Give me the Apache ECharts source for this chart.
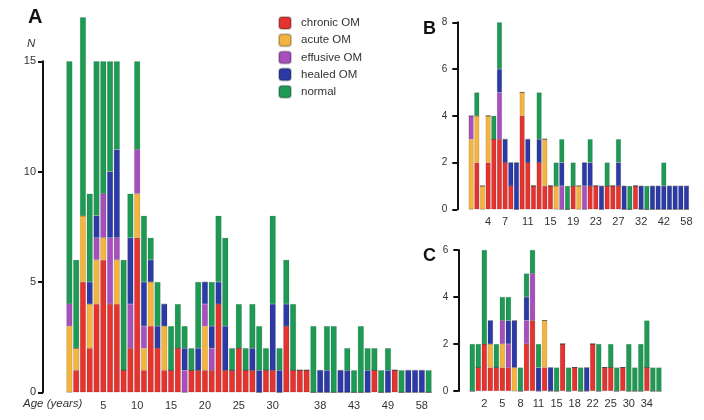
<!DOCTYPE html>
<html>
<head>
<meta charset="utf-8">
<script src="https://cdn.jsdelivr.net/npm/echarts/dist/echarts.min.js"></script>
<style>html,body{margin:0;padding:0;background:#fff}#chart{width:704px;height:420px}</style>
</head>
<body>
<div id="chart"></div>
<script>
// ---------- names & colours ----------
const seriesNames = ['chronic OM', 'acute OM', 'effusive OM', 'healed OM', 'normal'];
const seriesColors = ['#e3342f', '#f3b53f', '#a650be', '#2c3aa5', '#1f9a55'];

// ---------- Panel A ----------
const agesA = ['0','1','2','3','4','5','6','7','8','9','10','11','12','13','14','15','16','17','18','19','20',
  '21','22','23','24','25','26','27','28','29','30','31','32','33','34','35','37','38','39','40','41','42','43',
  '44','45','46','47','49','50','52','54','56','58','60'];
const labelsA = ['5','10','15','20','25','30','38','43','49','58'];
const chronicA  = [0,1,5,2,4,6,4,4,1,2, 7,1,3,2,1,1,2,0,1,1, 1,1,4,1,1,2,1,1,0,1, 1,0,3,1,1,1,0,0,0,0, 0,0,0,0,0,1,0,0,1,0, 0,0,0,0];
const acuteA    = [3,1,3,2,2,1,0,2,0,0, 2,1,2,0,2,0,0,0,0,0, 2,0,0,0,0,0,0,0,0,0, 0,0,0,0,0,0,0,0,0,0, 0,0,0,0,0,0,0,0,0,0, 0,0,0,0];
const effusiveA = [1,0,0,0,1,2,3,1,0,2, 2,1,0,0,0,0,0,1,0,0, 1,1,0,0,0,0,0,0,0,0, 0,0,0,0,0,0,0,0,0,0, 0,0,0,0,0,0,0,0,0,0, 0,0,0,0];
const healedA   = [0,0,0,1,1,0,3,4,0,3, 0,2,1,1,1,0,0,1,0,1, 1,1,1,2,0,0,0,1,1,0, 3,1,1,0,0,0,0,1,1,0, 1,1,0,0,1,0,0,1,0,0, 1,1,1,0];
const normalA   = [11,4,9,4,7,6,5,4,5,2, 4,3,1,2,0,2,2,1,1,3, 0,2,3,4,1,2,1,2,2,1, 4,1,2,3,0,0,3,0,2,3, 0,1,1,3,1,1,1,1,0,1, 0,0,0,1];
const ticksA = [0, 5, 10, 15];

// ---------- Panel B ----------
const agesB = ['1','2','3','4','5','6','7','8','9','10','11','12','13','14','15','16','17','18','19','20',
  '21','22','23','24','25','26','27','28','29','30','32','34','36','39','42','45','50','54','58'];
const labelsB = ['4','7','11','15','19','23','27','32','42','58'];
const chronicB  = [0,2,0,2,3,3,2,1,0,4, 2,1,2,1,1,0,0,0,1,0, 0,1,1,0,1,1,1,0,0,1, 0,0,0,0,0,0,0,0,0];
const acuteB    = [3,2,1,2,0,0,0,0,0,1, 0,0,0,2,0,1,0,0,0,1, 0,0,0,0,0,0,0,0,0,0, 0,0,0,0,0,0,0,0,0];
const effusiveB = [1,0,0,0,0,2,0,0,0,0, 0,0,0,0,0,0,1,0,0,0, 1,0,0,0,0,0,0,0,0,0, 0,0,0,0,0,0,0,0,0];
const healedB   = [0,0,0,0,0,1,1,1,2,0, 1,0,1,0,0,0,1,0,0,0, 1,1,0,1,0,0,1,1,0,0, 1,0,1,1,1,1,1,1,1];
const normalB   = [0,1,0,0,1,2,0,0,0,0, 0,0,2,0,0,1,1,1,1,0, 0,1,0,0,1,0,1,0,1,0, 0,1,0,0,1,0,0,0,0];
const ticksB = [0, 2, 4, 6, 8];

// ---------- Panel C ----------
const agesC = ['0','1','2','3','4','5','6','7','8','9','10','11','12','13','15','16','17','18','19','20',
  '22','23','24','25','27','28','30','31','32','34','36','38'];
const labelsC = ['2','5','8','11','15','18','22','25','30','34'];
const chronicC  = [0,1,2,1,1,1,1,0,0,2, 3,0,1,0,0,2,0,1,0,0, 2,0,1,1,0,1,0,0,0,1, 0,0];
const acuteC    = [0,0,0,1,0,1,0,1,0,0, 0,0,2,0,0,0,0,0,0,0, 0,0,0,0,0,0,0,0,0,0, 0,0];
const effusiveC = [0,0,0,0,0,1,1,0,0,1, 2,0,0,0,0,0,0,0,0,0, 0,0,0,0,0,0,0,0,0,0, 0,0];
const healedC   = [0,0,0,1,0,0,1,2,0,1, 0,1,0,1,0,0,0,0,0,1, 0,0,0,0,0,0,0,0,0,0, 0,0];
const normalC   = [2,1,4,0,1,1,1,0,1,1, 1,1,0,0,1,0,1,0,1,0, 0,2,0,1,1,0,2,1,2,2, 1,1];
const ticksC = [0, 2, 4, 6];

// ---------- build ----------
const FONT = 'Liberation Sans, Arial, sans-serif';
const panels = [
  { ages: agesA, labels: labelsA, data: [chronicA, acuteA, effusiveA, healedA, normalA], ticks: ticksA,
    grid: {left: 66, top: 61.3, width: 366, height: 331}, offset: 23, ylabelMargin: 7, ylabelSize: 11, xlabelMargin: 8 },
  { ages: agesB, labels: labelsB, data: [chronicB, acuteB, effusiveB, healedB, normalB], ticks: ticksB,
    grid: {left: 468.3, top: 22.3, width: 221, height: 187}, offset: 11, ylabelMargin: 10, ylabelSize: 10, xlabelMargin: 7 },
  { ages: agesC, labels: labelsC, data: [chronicC, acuteC, effusiveC, healedC, normalC], ticks: ticksC,
    grid: {left: 469.3, top: 250, width: 192.6, height: 141}, offset: 11, ylabelMargin: 10, ylabelSize: 10, xlabelMargin: 7 }
];

const grids = [], xAxes = [], yAxes = [], series = [];
panels.forEach((p, i) => {
  grids.push(Object.assign({ containLabel: false, outerBoundsMode: 'none' }, p.grid));
  xAxes.push({
    type: 'category', gridIndex: i, data: p.ages,
    axisLine: { show: false }, axisTick: { show: false }, splitLine: { show: false },
    axisLabel: {
      interval: (idx, val) => p.labels.indexOf(val) >= 0,
      fontFamily: FONT, fontSize: 11, color: '#333', margin: p.xlabelMargin
    }
  });
  const tmax = p.ticks[p.ticks.length - 1];
  yAxes.push({
    type: 'value', gridIndex: i, min: p.ticks[0], max: tmax, interval: p.ticks[1] - p.ticks[0],
    offset: p.offset,
    axisLine: { show: true, lineStyle: { color: '#111', width: 2 } },
    axisTick: { show: true, length: 5, lineStyle: { color: '#111', width: 2 } },
    splitLine: { show: false },
    axisLabel: { fontFamily: FONT, fontSize: p.ylabelSize, color: '#333', margin: p.ylabelMargin }
  });
  seriesNames.forEach((name, s) => {
    series.push({
      type: 'bar', name: name, stack: 'panel' + i,
      xAxisIndex: i, yAxisIndex: i,
      data: p.data[s],
      barCategoryGap: '12%',
      clip: false,
      itemStyle: { color: seriesColors[s], borderColor: 'rgba(0,0,0,0.22)', borderWidth: 0.5 },
      emphasis: { disabled: true },
      animation: false
    });
  });
});

const chart = echarts.init(document.getElementById('chart'), null, { renderer: 'canvas' });
chart.setOption({
  animation: false,
  backgroundColor: '#ffffff',
  color: seriesColors,
  grid: grids, xAxis: xAxes, yAxis: yAxes, series: series,
  legend: {
    data: seriesNames, orient: 'vertical', left: 278, top: 16, padding: 0,
    itemWidth: 12, itemHeight: 12, itemGap: 3.2, icon: 'roundRect',
    selectedMode: false,
    textStyle: { fontFamily: FONT, fontSize: 11.5, color: '#333', padding: [0, 0, 0, 5] }
  },
  graphic: [
    { type: 'text', left: 28, top: 7, style: { text: 'A', font: 'bold 20px ' + FONT, fill: '#111' } },
    { type: 'text', left: 27, top: 38, style: { text: 'N', font: 'italic 11.5px ' + FONT, fill: '#333' } },
    { type: 'text', left: 23, top: 398, style: { text: 'Age (years)', font: 'italic 11.5px ' + FONT, fill: '#333' } },
    { type: 'text', left: 423, top: 20, style: { text: 'B', font: 'bold 18px ' + FONT, fill: '#111' } },
    { type: 'text', left: 423, top: 247, style: { text: 'C', font: 'bold 18px ' + FONT, fill: '#111' } }
  ]
});
</script>
</body>
</html>
